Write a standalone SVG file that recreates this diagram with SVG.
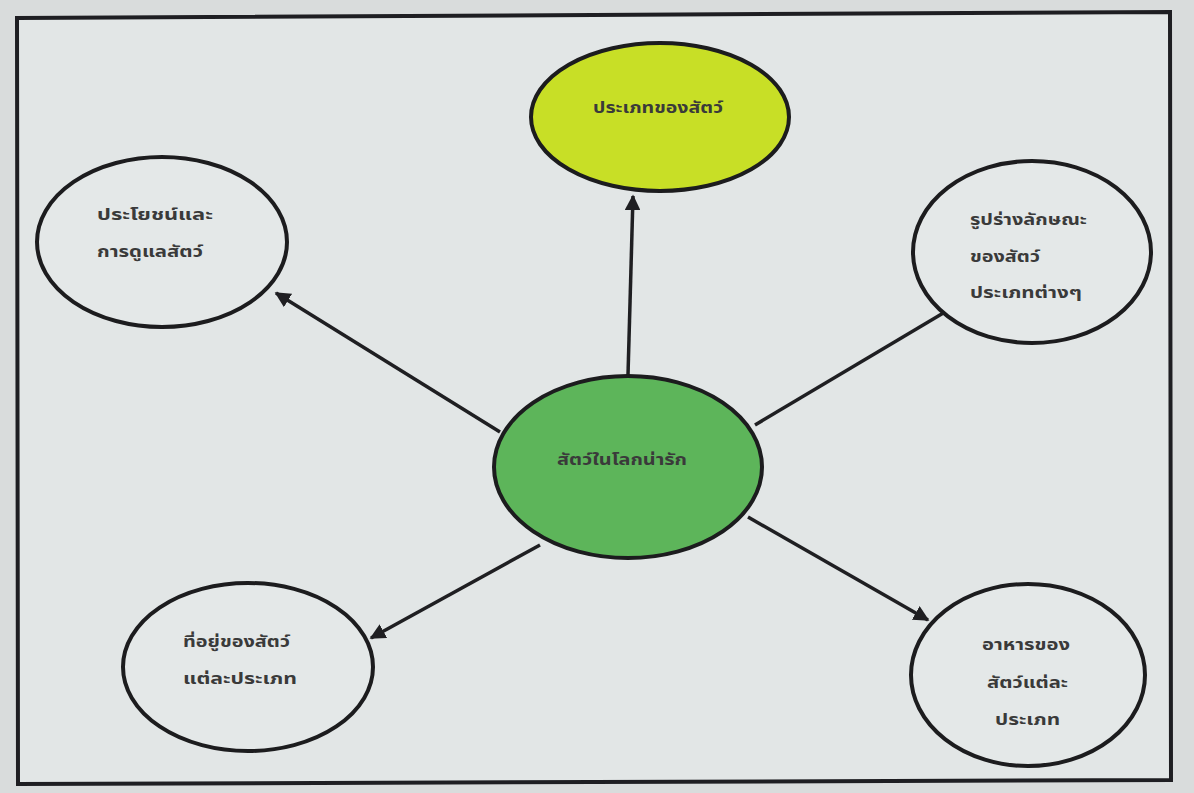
<svg xmlns="http://www.w3.org/2000/svg" width="1194" height="793" viewBox="0 0 1194 793">
<style>
.bg{fill:#d9dcdc}
.paper{fill:#e2e6e6;stroke:#1e1e22;stroke-width:4}
.node{stroke:#1c1c1e;stroke-width:4}
.plain{fill:#e4e8e8}
.t{font-family:"Noto Sans Thai","Noto Sans","DejaVu Sans",sans-serif;font-size:15px;font-weight:bold;fill:#3a3a3a}
.c{stroke:#1f1f22;stroke-width:3.5;fill:none}
</style>
<defs>
<marker id="ah" viewBox="0 0 10 10" refX="9" refY="5" markerWidth="4.5" markerHeight="4.5" orient="auto" markerUnits="strokeWidth">
<path d="M0,0 L10,5 L0,10 z" fill="#1f1f22"/>
</marker>
</defs>
<rect class="bg" x="0" y="0" width="1194" height="793"/>
<path class="paper" d="M17,18 L1170,12 L1171,780 L18,784 Z"/>
<g id="connectors">
<line class="c" x1="628" y1="375" x2="633" y2="196" marker-end="url(#ah)"/>
<line class="c" x1="500" y1="432" x2="276" y2="293" marker-end="url(#ah)"/>
<line class="c" x1="755" y1="425" x2="945" y2="312"/>
<line class="c" x1="540" y1="545" x2="371" y2="638" marker-end="url(#ah)"/>
<line class="c" x1="748" y1="517" x2="928" y2="620" marker-end="url(#ah)"/>
</g>
<g id="n-top">
<ellipse class="node" cx="660" cy="117" rx="129" ry="74" fill="#c8df26"/>
<text class="t" x="593" y="113" textLength="130" lengthAdjust="spacingAndGlyphs" fill="#3b4015">ประเภทของสัตว์</text>
</g>
<g id="n-topleft">
<ellipse class="node plain" cx="162" cy="242" rx="125" ry="85"/>
<text class="t" x="97" y="220" textLength="116" lengthAdjust="spacingAndGlyphs">ประโยชน์และ</text>
<text class="t" x="97" y="257" textLength="106" lengthAdjust="spacingAndGlyphs">การดูแลสัตว์</text>
</g>
<g id="n-right">
<ellipse class="node plain" cx="1032" cy="252" rx="119" ry="91"/>
<text class="t" x="970" y="225" textLength="117" lengthAdjust="spacingAndGlyphs">รูปร่างลักษณะ</text>
<text class="t" x="970" y="262" textLength="70" lengthAdjust="spacingAndGlyphs">ของสัตว์</text>
<text class="t" x="970" y="298" textLength="112" lengthAdjust="spacingAndGlyphs">ประเภทต่างๆ</text>
</g>
<g id="n-center">
<ellipse class="node" cx="628" cy="467" rx="134" ry="91" fill="#5db55a"/>
<text class="t" x="557" y="465" textLength="130" lengthAdjust="spacingAndGlyphs" fill="#1e3b1e">สัตว์ในโลกน่ารัก</text>
</g>
<g id="n-bottomleft">
<ellipse class="node plain" cx="248" cy="667" rx="125" ry="84"/>
<text class="t" x="183" y="647" textLength="107" lengthAdjust="spacingAndGlyphs">ที่อยู่ของสัตว์</text>
<text class="t" x="183" y="684" textLength="114" lengthAdjust="spacingAndGlyphs">แต่ละประเภท</text>
</g>
<g id="n-bottomright">
<ellipse class="node plain" cx="1028" cy="675" rx="117" ry="91"/>
<text class="t" x="982" y="650" textLength="88" lengthAdjust="spacingAndGlyphs">อาหารของ</text>
<text class="t" x="987" y="688" textLength="81" lengthAdjust="spacingAndGlyphs">สัตว์แต่ละ</text>
<text class="t" x="995" y="725" textLength="65" lengthAdjust="spacingAndGlyphs">ประเภท</text>
</g>
</svg>
